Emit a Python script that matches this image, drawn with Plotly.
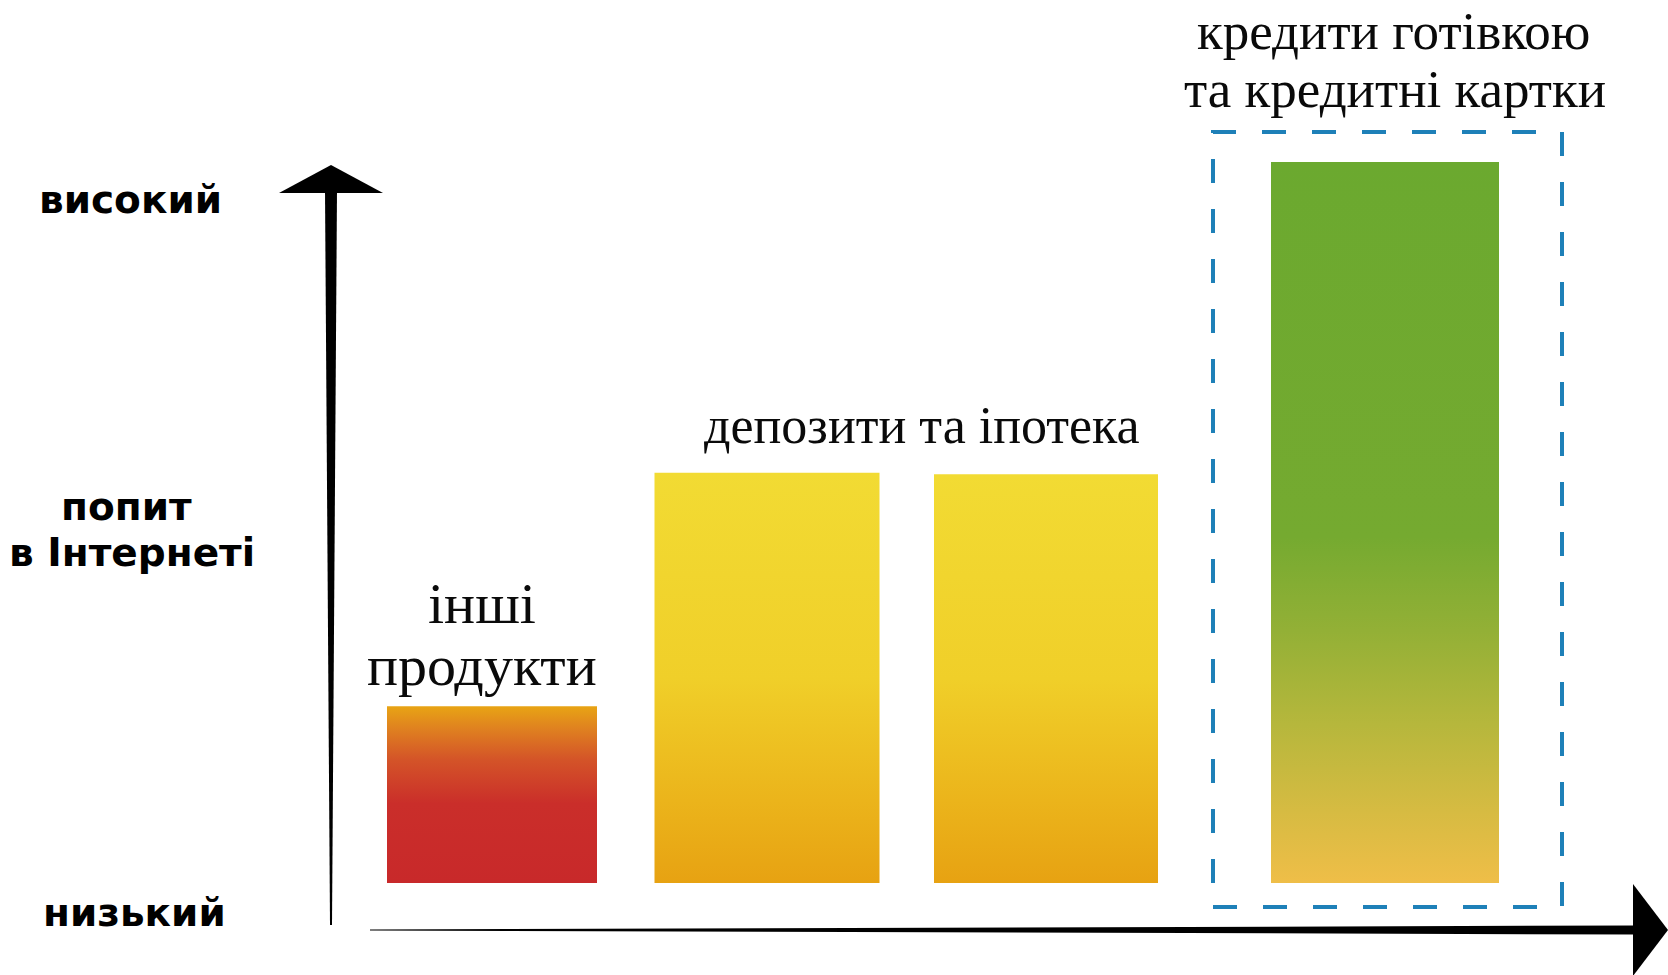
import plotly.graph_objects as go

# ---- data ----
categories = ["інші<br>продукти", "депозити", "іпотека", "кредити готівкою<br>та кредитні картки"]
demand = [24.5, 56.9, 56.7, 100.0]
level_labels = ["високий", "попит<br>в Інтернеті", "низький"]

# ---- layout constants (pixels of a 1668x975 canvas) ----
W, H = 1668, 975
BASE_PX = 883          # pixel row of demand = 0
PX_PER_UNIT = 7.21     # pixels per demand unit
bar_centers_px = [492, 767, 1046, 1385]
bar_widths_px = [210, 225, 224, 228]

gradients = [
    [[0, "#C8292A"], [0.45, "#CA2E2A"], [0.7, "#D45428"], [0.87, "#DF8020"], [1, "#E8A414"]],
    [[0, "#E7A212"], [0.2, "#EBB41B"], [0.5, "#F0CF29"], [1, "#F2DB33"]],
    [[0, "#E7A212"], [0.2, "#EBB41B"], [0.5, "#F0CF29"], [1, "#F2DB33"]],
    [[0, "#EFBE48"], [0.1, "#D6BB42"], [0.22, "#B6B73C"], [0.35, "#93B036"], [0.48, "#75AA30"], [1, "#6BA92F"]],
]

y_lo = -(H - BASE_PX) / PX_PER_UNIT
y_hi = BASE_PX / PX_PER_UNIT

fig = go.Figure()
for cat, v, cx, bw, cs in zip(categories, demand, bar_centers_px, bar_widths_px, gradients):
    x0, x1 = cx - bw / 2, cx + bw / 2
    fig.add_trace(go.Scatter(
        x=[x0, x0, x1, x1, x0], y=[0, v, v, 0, 0],
        mode="lines", fill="toself", line=dict(width=0),
        fillgradient=dict(type="vertical", colorscale=cs, start=0, stop=v),
        name=cat.replace("<br>", " "), hoverinfo="name", showlegend=False,
    ))

def px(x):
    return x / W

def py(y):
    return 1 - y / H

shapes = []
# vertical tapered axis
shapes.append(dict(type="path", xref="paper", yref="paper", line=dict(width=0), fillcolor="black",
                   path=f"M {px(330)},{py(925)} L {px(332)},{py(925)} L {px(337)},{py(190)} L {px(325)},{py(190)} Z"))
shapes.append(dict(type="path", xref="paper", yref="paper", line=dict(width=0), fillcolor="black",
                   path=f"M {px(331)},{py(165)} L {px(383)},{py(193)} L {px(279)},{py(193)} Z"))
# horizontal tapered axis
shapes.append(dict(type="path", xref="paper", yref="paper", line=dict(width=0), fillcolor="black",
                   path=f"M {px(370)},{py(929.5)} L {px(370)},{py(930.5)} L {px(1636)},{py(934.5)} L {px(1636)},{py(925.5)} Z"))
shapes.append(dict(type="path", xref="paper", yref="paper", line=dict(width=0), fillcolor="black",
                   path=f"M {px(1633)},{py(884)} L {px(1668)},{py(930)} L {px(1633)},{py(976)} Z"))
# dashed highlight box
shapes.append(dict(type="rect", xref="paper", yref="paper",
                   x0=px(1213), x1=px(1562), y0=py(907), y1=py(132),
                   line=dict(color="#1E80B8", width=4, dash="24px,26px"), fillcolor="rgba(0,0,0,0)"))

annotations = []

def sans(size=39):
    return dict(family="DejaVu Sans", size=size, color="black")

def serif(size):
    return dict(family="Liberation Serif", size=size, color="#0a0a0a")

def add_text(text, x, y, font):
    annotations.append(dict(text=text, x=px(x), y=py(y), xref="paper", yref="paper",
                            showarrow=False, xanchor="center", yanchor="middle", font=font))

add_text("<b>" + level_labels[0] + "</b>", 130, 199, sans())
add_text("<b>попит</b>", 126, 506, sans())
add_text("<b>в Інтернеті</b>", 132, 552, sans())
add_text("<b>" + level_labels[2] + "</b>", 134, 912, sans())

add_text("інші", 482, 603, serif(58))
add_text("продукти", 482, 665, serif(58))
add_text("депозити та іпотека", 922, 425, serif(52))
add_text("кредити готівкою", 1393, 31, serif(53))
add_text("та кредитні картки", 1395, 89, serif(53))

fig.update_layout(
    width=W, height=H, margin=dict(l=0, r=0, t=0, b=0),
    paper_bgcolor="white", plot_bgcolor="white",
    xaxis=dict(range=[0, W], visible=False, fixedrange=True),
    yaxis=dict(range=[y_lo, y_hi], visible=False, fixedrange=True),
    shapes=shapes, annotations=annotations, showlegend=False,
)

fig.write_html("out.html")
